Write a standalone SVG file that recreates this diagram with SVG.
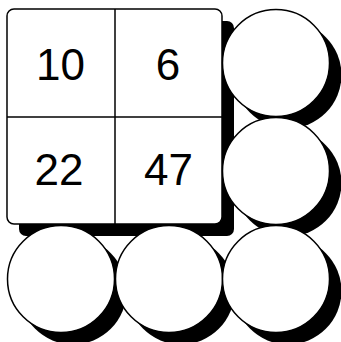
<svg xmlns="http://www.w3.org/2000/svg" width="341" height="342" viewBox="0 0 341 342">
<style>
.sh{fill:#000;stroke:none}
.sf{fill:#fff;stroke:#000;stroke-width:1.5}
.ln{stroke:#000;stroke-width:1.5;fill:none}
.t{font-family:"Liberation Sans",Arial,sans-serif;font-size:44px;fill:#000;text-anchor:middle}
</style>
<rect width="341" height="342" fill="#fff"/>
<g id="board">
<rect class="sh" x="19" y="21" width="215" height="215" rx="7"/>
<rect class="sf" x="7" y="9" width="215" height="215" rx="7"/>
<line class="ln" x1="115" y1="9" x2="115" y2="224"/>
<line class="ln" x1="7" y1="117" x2="222" y2="117"/>
<text class="t" x="60.5" y="79.5">10</text>
<text class="t" x="168" y="79.5">6</text>
<text class="t" x="59" y="184.5">22</text>
<text class="t" x="168.5" y="184.5">47</text>
</g>
<g id="c1">
<circle class="sh" cx="288" cy="75" r="53.5"/>
<circle class="sf" cx="276" cy="63" r="53.5"/>
</g>
<g id="c2">
<circle class="sh" cx="288" cy="183" r="53.5"/>
<circle class="sf" cx="276" cy="171" r="53.5"/>
</g>
<g id="c3">
<circle class="sh" cx="73" cy="291" r="53.5"/>
<circle class="sf" cx="61" cy="279" r="53.5"/>
</g>
<g id="c4">
<circle class="sh" cx="181" cy="291" r="53.5"/>
<circle class="sf" cx="169" cy="279" r="53.5"/>
</g>
<g id="c5">
<circle class="sh" cx="288" cy="291" r="53.5"/>
<circle class="sf" cx="276" cy="279" r="53.5"/>
</g>
<g id="connectors"></g>
</svg>
